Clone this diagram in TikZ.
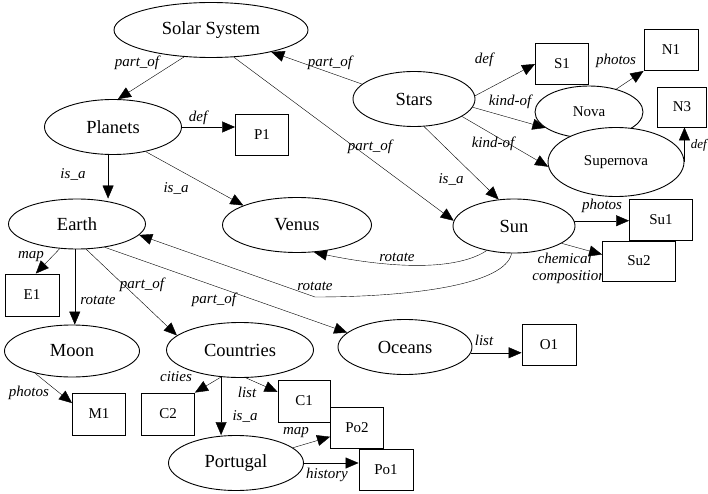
\documentclass[tikz,border=0pt]{standalone}
\usepackage{fontspec}
\setmainfont{Liberation Serif}
\usetikzlibrary{shapes.geometric,arrows.meta}
\pgfdeclarelayer{bg}
\pgfsetlayers{bg,main}
\begin{document}
\begin{tikzpicture}[x=1pt,y=-1pt,line width=0.9pt,
  ell/.style={ellipse,draw,fill=white,inner sep=0pt,font=\fontsize{18.5}{20}\selectfont},
  ells/.style={ell,font=\fontsize{15}{17}\selectfont},
  ebox/.style={rectangle,draw,fill=white,inner sep=0pt,font=\fontsize{15}{17}\selectfont},
  arr/.style={-{Triangle[length=13pt,width=11pt]}},
  lbl/.style={font=\itshape\fontsize{15}{16}\selectfont,inner sep=0pt}]
\useasboundingbox (0,0) rectangle (708,494);
% nodes
\node[ell,minimum width=194pt,minimum height=55pt] (ss) at (211,30) {Solar System};
\node[ell,minimum width=137pt,minimum height=55pt] (pl) at (113,127) {Planets};
\node[ebox,minimum width=53pt,minimum height=41pt] (p1) at (262,135) {P1};
\node[ell,minimum width=137pt,minimum height=50pt] (er) at (77,224) {Earth};
\node[ell,minimum width=149pt,minimum height=55pt] (ve) at (297,225) {Venus};
\node[ell,minimum width=122pt,minimum height=54pt] (sun) at (514,226) {Sun};
\node[ell,minimum width=122pt,minimum height=55pt] (st) at (414,99) {Stars};
\node[ebox,minimum width=53pt,minimum height=41pt] (s1) at (562,64) {S1};
\node[ebox,minimum width=54pt,minimum height=41pt] (n1) at (671,50) {N1};
\node[ells,minimum width=108pt,minimum height=52pt] (nova) at (589,112) {Nova};
\node[ebox,minimum width=49pt,minimum height=40pt] (n3) at (682,107) {N3};
\node[ells,minimum width=136pt,minimum height=69pt] (sn) at (616,162) {Supernova};
\node[ebox,minimum width=63pt,minimum height=41pt] (su1) at (661,220) {Su1};
\node[ebox,minimum width=73pt,minimum height=40pt] (su2) at (639,261) {Su2};
\node[ell,minimum width=134pt,minimum height=55pt] (oc) at (405,347) {Oceans};
\node[ebox,minimum width=54pt,minimum height=41pt] (o1) at (549,345) {O1};
\node[ell,minimum width=135pt,minimum height=52pt] (mo) at (72,351) {Moon};
\node[ebox,minimum width=54pt,minimum height=42pt] (e1) at (32,295) {E1};
\node[ell,minimum width=147pt,minimum height=55pt] (co) at (240,350) {Countries};
\node[ebox,minimum width=53pt,minimum height=42pt] (m1) at (99,414) {M1};
\node[ebox,minimum width=53pt,minimum height=42pt] (c2) at (168,414) {C2};
\node[ebox,minimum width=52pt,minimum height=42pt] (c1) at (304,401) {C1};
\node[ebox,minimum width=53pt,minimum height=41pt] (po2) at (357,428) {Po2};
\node[ebox,minimum width=54pt,minimum height=41pt] (po1) at (386,470) {Po1};
\node[ell,minimum width=135pt,minimum height=55pt] (pt) at (236,463) {Portugal};
\begin{pgfonlayer}{bg}
\fill[white] (0,0) rectangle (708,494);
% connectors
\draw[arr] (ss.225) -- (pl.80);
\draw[arr] (st.164) -- (ss.-20);
\draw[arr] (ss.-50) -- (sun.175);
\draw[arr] (pl.east) -- (pl.east -| p1.west);
\draw[arr] (pl.-100) -- (pl.-100 |- er.north);
\draw[arr] (pl.-37) -- (ve.160);
\draw[arr] (st.3) -- (s1.west);
\draw[arr] (st.-8) -- (nova.200);
\draw[arr] (st.-20) -- (sn.184);
\draw[arr] (st.-70) -- (sun.120);
\draw[arr] (nova.40) -- (n1.south west);
\draw[arr] (sn.east) -- (sn.east |- n3.south);
\draw[arr] (sun.5) -- (sun.5 -| su1.west);
\draw[arr] (sun.-20) -- (su2.170);
\draw[arr] (sun.222) .. controls (445,278) and (350,260) .. (ve.-58);
\coordinate (rb) at (315,297);
\draw[arr] (sun.-95) .. controls (505,285) and (410,297) .. (rb) -- (er.-10);
\draw[arr] (er.235) -- (e1.80);
\draw[arr] (er.-95) -- (er.-95 |- mo.north);
\draw[arr] (er.-70) -- (co.167);
\draw[arr] (er.-40) -- (oc.166);
\draw[arr] (oc.-5) -- (oc.-5 -| o1.west);
\draw[arr] (mo.211) -- (m1.158);
\draw[arr] (co.-125) -- (c2.north east);
\draw[arr] (co.-78) -- (c1.161);
\draw[arr] (co.-125) -- (co.-125 |- pt.north);
\draw[arr] (pt.15) -- (po2.198);
\draw[arr] (pt.east) -- (pt.east -| po1.west);
% labels
\node[lbl] (l1) at (137,63) {part\_of};
\node[lbl] (l2) at (330,63) {part\_of};
\node[lbl] (l3) at (370,147) {part\_of};
\node[lbl] (l4) at (198,118) {def};
\node[lbl] (l5) at (73,175) {is\_a};
\node[lbl] (l6) at (176,189) {is\_a};
\node[lbl] (l7) at (484,60) {def};
\node[lbl] (l8) at (510,102) {kind-of};
\node[lbl] (l9) at (493,144) {kind-of};
\node[lbl] (l10) at (451,180) {is\_a};
\node[lbl] (l11) at (616,61) {photos};
\node[lbl,anchor=east,font=\itshape\fontsize{13}{14}\selectfont] (l12) at (707,145) {def};
\node[lbl] (l13) at (602,206) {photos};
\node[lbl,anchor=east] (l14) at (592,258) {chemical};
\node[lbl,anchor=east] (l15) at (606,277) {composition};
\node[lbl] (l16) at (397,257) {rotate};
\node[lbl] (l17) at (315,286) {rotate};
\node[lbl] (l18) at (31,257) {map};
\node[lbl] (l19) at (98,300) {rotate};
\node[lbl] (l20) at (142,285) {part\_of};
\node[lbl] (l21) at (214,300) {part\_of};
\node[lbl] (l22) at (484,340) {list};
\node[lbl] (l23) at (29,393) {photos};
\node[lbl] (l24) at (176,377) {cities};
\node[lbl] (l25) at (247,392) {list};
\node[lbl] (l26) at (245,416) {is\_a};
\node[lbl] (l27) at (296,433) {map};
\node[lbl] (l28) at (327,475) {history};
\end{pgfonlayer}
\end{tikzpicture}
\end{document}
